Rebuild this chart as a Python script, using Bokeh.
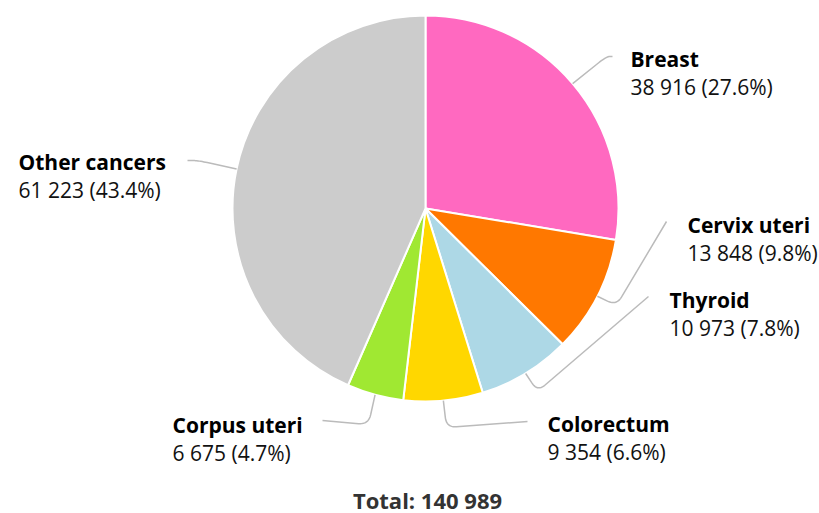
import numpy as np
from bokeh.plotting import figure
from bokeh.models import Range1d, ColumnDataSource
from bokeh.core.properties import value
from bokeh.embed import file_html
from bokeh.resources import INLINE

# ---- data ----
categories = ["Breast", "Cervix uteri", "Thyroid", "Colorectum", "Corpus uteri", "Other cancers"]
counts = [38916, 13848, 10973, 9354, 6675, 61223]
colors = ["#FF69C0", "#FF7800", "#ADD8E6", "#FFD700", "#A0E832", "#CCCCCC"]

# ---- layout (screen pixel coordinates, y downwards) ----
W, H = 819, 513
CX, CY, R = 425, 208, 193
FONT = "Open Sans"
FS = "21px"
# label anchor (left x, name baseline y)
label_pos = [(630, 58), (687, 224), (669, 299), (547, 423), (172, 424), (18, 161)]
# connector corner and end points
conn_corner = [(606, 56), (616, 305), (537, 391), (446, 427), (368, 424), (197, 160)]
conn_end = [(612, 56), (666, 221), (648, 296), (527, 421), (322, 420), (187, 160)]

total = sum(counts)
fr = np.array(counts) / total
cum = np.concatenate([[0], np.cumsum(fr)])
start = np.pi / 2 - 2 * np.pi * cum[:-1]
end = np.pi / 2 - 2 * np.pi * cum[1:]
mid = (start + end) / 2

p = figure(width=W, height=H, output_backend="svg", toolbar_location=None,
           x_range=Range1d(0, W), y_range=Range1d(-H, 0),
           min_border=0, outline_line_color=None)
p.axis.visible = False
p.grid.visible = False

src = ColumnDataSource(dict(start=start, end=end, color=colors))
p.wedge(x=CX, y=-CY, radius=R, start_angle="start", end_angle="end", direction="clock",
        fill_color="color", line_color="white", line_width=2, source=src)


def rounded(p0, c, p1, r=10, n=12):
    p0, c, p1 = np.array(p0, float), np.array(c, float), np.array(p1, float)
    d0 = c - p0
    d1 = p1 - c
    l0, l1 = np.linalg.norm(d0), np.linalg.norm(d1)
    rr0 = min(r, l0 * 0.5) if l0 > 0 else 0
    rr1 = min(r, l1 * 0.5) if l1 > 0 else 0
    a = c - d0 / l0 * rr0 if l0 > 0 else c
    b = c + d1 / l1 * rr1 if l1 > 0 else c
    t = np.linspace(0, 1, n)[:, None]
    curve = (1 - t) ** 2 * a + 2 * (1 - t) * t * c + t ** 2 * b
    pts = np.vstack([p0, curve, p1])
    return list(pts[:, 0]), list(-pts[:, 1])


xs, ys = [], []
for i in range(len(categories)):
    sx = CX + R * np.cos(mid[i])
    sy = CY - R * np.sin(mid[i])
    x, y = rounded((sx, sy), conn_corner[i], conn_end[i])
    xs.append(x)
    ys.append(y)
p.multi_line(xs=xs, ys=ys, line_color="#BBBBBB", line_width=1.5)

names = categories
vals = [f"{c:,}".replace(",", " ") + f" ({f*100:.1f}%)" for c, f in zip(counts, fr)]
lx = [q[0] for q in label_pos]
ly = [-q[1] for q in label_pos]
ly2 = [-(q[1] + 28) for q in label_pos]
p.text(x=lx, y=ly, text=names, text_font=value(FONT), text_font_size=FS,
       text_font_style="bold", text_color="#000000", text_baseline="alphabetic", text_align="left")
p.text(x=lx, y=ly2, text=vals, text_font=value(FONT), text_font_size=FS,
       text_color="#111111", text_baseline="alphabetic", text_align="left")

total_label = "Total: " + f"{total:,}".replace(",", " ")
p.text(x=[427], y=[-499], text=[total_label], text_font=value(FONT), text_font_size="22px",
       text_font_style="bold", text_color="#333333", text_baseline="alphabetic", text_align="center")

open("out.html", "w").write(file_html(p, INLINE))
